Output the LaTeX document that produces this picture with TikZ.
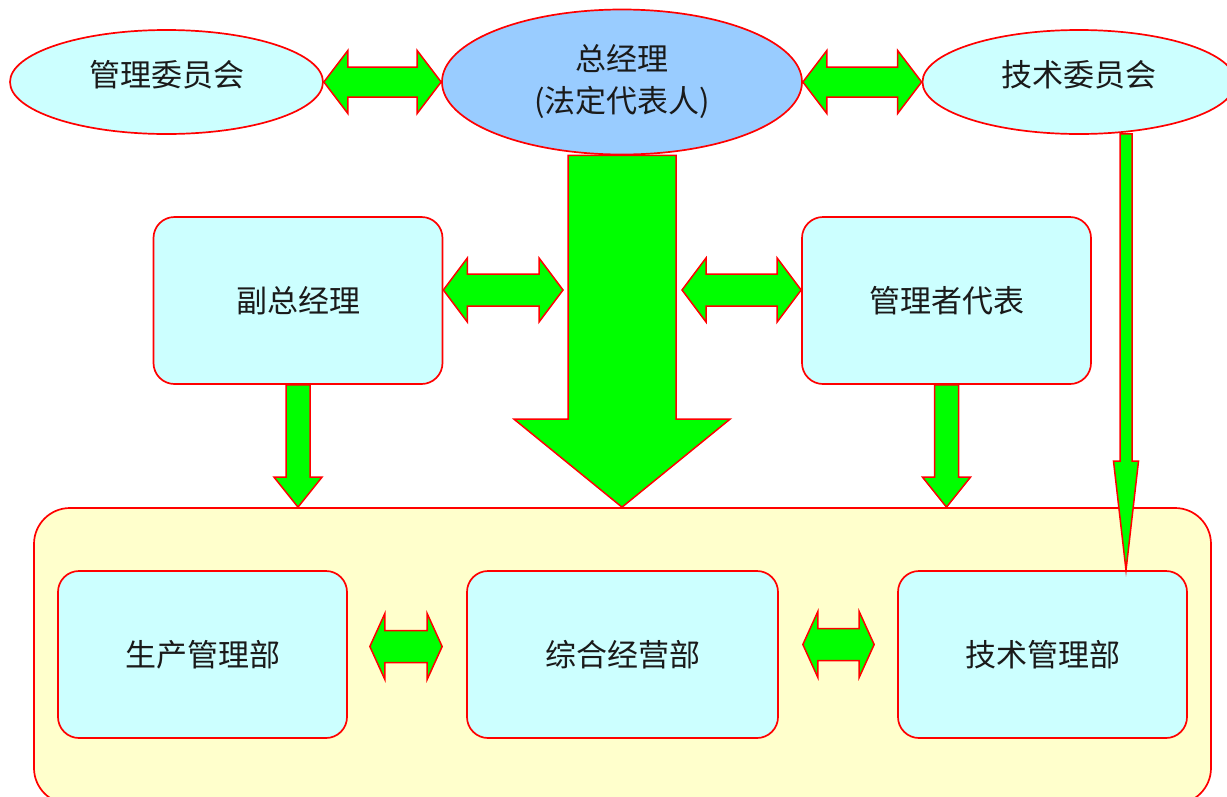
\documentclass[tikz,border=0pt]{standalone}
\usepackage{fontspec}
\newfontfamily\cjk{Noto Sans CJK SC}
\usetikzlibrary{shapes.geometric,calc}
\definecolor{cyanf}{HTML}{CCFFFF}
\definecolor{bluef}{HTML}{99CCFF}
\definecolor{yelf}{HTML}{FFFFCC}
\definecolor{grn}{HTML}{00FF00}
\definecolor{redl}{HTML}{FF0000}
\definecolor{txtc}{HTML}{1A1A1A}
% vertical block arrow: #1 start, #2 tip, #3 shaft half width, #4 head half width, #5 head length
\newcommand\blockdown[5]{%
  \draw[blk] ($(#1)+(-#3,0)$) -- ($(#1|-#2)+(-#3,-#5)$) -- ($(#1|-#2)+(-#4,-#5)$)
    -- (#1|-#2) -- ($(#1|-#2)+(#4,-#5)$) -- ($(#1|-#2)+(#3,-#5)$) -- ($(#1)+(#3,0)$) -- cycle;}
% horizontal double block arrow: #1 left tip, #2 right tip, #3 shaft half height, #4 head half height, #5 head length
\newcommand\blockdbl[5]{%
  \draw[blk] (#1) -- ($(#1)+(#5,-#4)$) -- ($(#1)+(#5,-#3)$) -- ($(#2|-#1)+(-#5,-#3)$)
    -- ($(#2|-#1)+(-#5,-#4)$) -- (#2|-#1) -- ($(#2|-#1)+(-#5,#4)$) -- ($(#2|-#1)+(-#5,#3)$)
    -- ($(#1)+(#5,#3)$) -- ($(#1)+(#5,#4)$) -- cycle;}
\begin{document}
\begin{tikzpicture}[x=1pt,y=-1pt,
  txt/.style={font=\cjk\fontsize{31}{42}\selectfont, text=txtc, align=center},
  ell/.style={ellipse, draw=redl, line width=1.7pt, fill=cyanf, inner sep=0pt,
    minimum width=313pt, minimum height=104pt, txt},
  box/.style={rectangle, rounded corners=21pt, draw=redl, line width=1.7pt, fill=cyanf,
    minimum width=289pt, minimum height=167pt, inner sep=0pt, txt},
  cont/.style={rectangle, rounded corners=36pt, draw=redl, line width=1.7pt, fill=yelf,
    minimum width=1177pt, minimum height=296pt, inner sep=0pt},
  blk/.style={draw=redl, fill=grn, line width=1.5pt, line join=miter}]
\useasboundingbox (0,0) rectangle (1227,796);
\fill[white] (0,0) rectangle (1227,796);

% container
\node[cont] (dept) at (622.5,656) {};

% top row
\node[ell, text height=20pt, text depth=12pt] (lmc) at (166.5,82) {管理委员会};
\node[ell, fill=bluef, minimum width=360pt, minimum height=145pt] (gm) at (622,82) {总经理\\(法定代表人)};
\node[ell, text height=20pt, text depth=12pt] (tc) at (1079,82) {技术委员会};

% middle row
\node[box] (vp) at (298,300.5) {副总经理};
\node[box] (mr) at (946.5,300.5) {管理者代表};

% bottom row
\node[box] (prod) at (202.5,654.5) {生产管理部};
\node[box, minimum width=311pt] (ops) at (622.5,654.5) {综合经营部};
\node[box] (tech) at (1042.5,654.5) {技术管理部};

% helper coordinates
\coordinate (gmS) at (gm.south);
\coordinate (deptN) at (dept.north);
\coordinate (vpArrowL) at ($(vp.east)+(0,-10.5)$);
\coordinate (mrArrowR) at ($(mr.west)+(0,-10.5)$);
\coordinate (bigL) at ($(gm.south |- vpArrowL)+(-59,0)$);
\coordinate (bigR) at ($(gm.south |- mrArrowR)+(60,0)$);
\coordinate (vpS) at (vp.south);
\coordinate (vpT) at (vp.south |- dept.north);
\coordinate (mrS) at (mr.south);
\coordinate (mrT) at (mr.south |- dept.north);
\coordinate (tcS) at ($(tc.south)+(47,-1)$);
\coordinate (techT) at ($(tech.north)+(84,0)$);
\coordinate (prodR) at ($(prod.east)+(22,-8)$);
\coordinate (opsL) at ($(ops.west)+(-24,0)$);
\coordinate (opsR) at ($(ops.east)+(24,-10)$);
\coordinate (techL) at ($(tech.west)+(-23,0)$);

% arrows
\blockdbl{lmc.east}{gm.west}{15}{31.5}{24}
\blockdbl{gm.east}{tc.west}{15}{31.5}{24}
\blockdbl{vpArrowL}{bigL}{16}{32}{24}
\blockdbl{bigR}{mrArrowR}{16}{32}{24}
\blockdbl{prodR}{opsL}{16}{33}{15}
\blockdbl{opsR}{techL}{16}{33}{15}
\blockdown{gmS}{deptN}{54}{108}{88}
\blockdown{vpS}{vpT}{12}{24}{30}
\blockdown{mrS}{mrT}{12}{24}{30}
\blockdown{tcS}{techT}{6}{12.5}{109}
\end{tikzpicture}
\end{document}
